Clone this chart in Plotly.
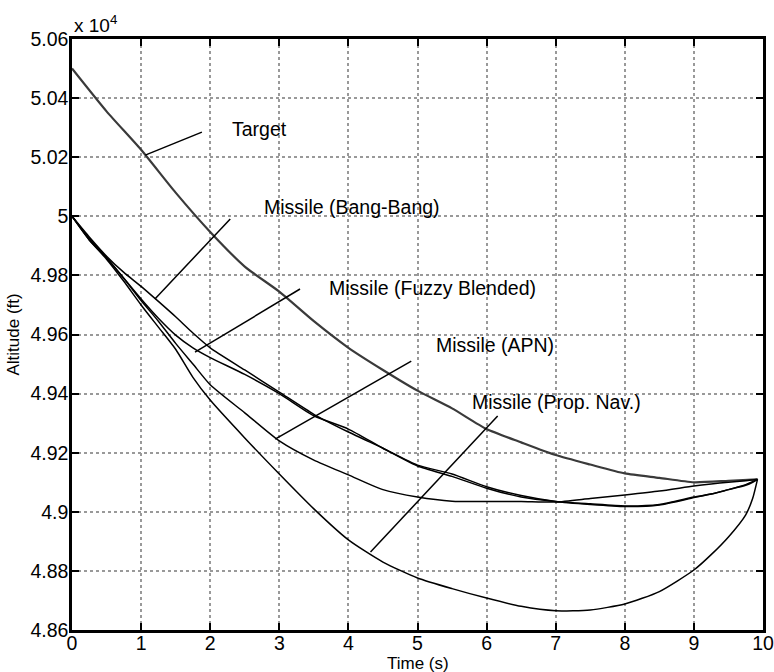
import plotly.graph_objects as go

# time grid (s) and altitudes (x 10^4 ft)
t_target = [0, 0.5, 1.0, 1.5, 2.0, 2.5, 3.0, 3.5, 4.0, 4.5, 5.0, 5.5, 6.0, 6.5, 7.0, 7.5, 8.0, 8.5, 9.0, 9.5, 9.92]
alt_target = [5.050, 5.0355, 5.0225, 5.008, 4.9947, 4.983, 4.9745, 4.9645, 4.9555, 4.948, 4.941, 4.935, 4.928,
              4.9235, 4.9192, 4.916, 4.913, 4.9115, 4.910, 4.9105, 4.911]

t_m = [0, 0.25, 0.5, 0.75, 1.0, 1.25, 1.5, 1.75, 2.0, 2.5, 3.0, 3.5, 4.0, 4.5, 5.0, 5.5, 6.0, 6.5, 7.0, 7.5,
       8.0, 8.5, 9.0, 9.25, 9.5, 9.75, 9.85, 9.92]
alt_bang = [5.000, 4.993, 4.9865, 4.981, 4.9763, 4.9712, 4.9660, 4.9605, 4.9555, 4.948, 4.9405, 4.933, 4.927,
            4.9215, 4.9158, 4.9128, 4.9085, 4.9055, 4.9035, 4.9025, 4.9018, 4.9023, 4.9048, 4.906, 4.9075,
            4.909, 4.910, 4.911]
alt_fuzzy = [5.000, 4.9925, 4.986, 4.979, 4.972, 4.9655, 4.9598, 4.9555, 4.9522, 4.9465, 4.940, 4.9325, 4.928,
             4.9215, 4.9155, 4.912, 4.908, 4.905, 4.9035, 4.9027, 4.902, 4.9025, 4.905, 4.906, 4.9075,
             4.9092, 4.9102, 4.911]
alt_apn = [5.000, 4.992, 4.986, 4.979, 4.9715, 4.9645, 4.957, 4.950, 4.943, 4.9335, 4.924, 4.9175, 4.9125,
           4.9075, 4.905, 4.9036, 4.9035, 4.9035, 4.9033, 4.9045, 4.9057, 4.907, 4.9087, 4.9094, 4.910,
           4.9105, 4.9108, 4.911]
alt_pn = [5.000, 4.992, 4.9855, 4.978, 4.970, 4.9625, 4.955, 4.9455, 4.9378, 4.925, 4.9128, 4.901, 4.8905,
          4.883, 4.8776, 4.874, 4.8708, 4.868, 4.8665, 4.8668, 4.8688, 4.873, 4.8803, 4.8855, 4.8915, 4.899,
          4.9045, 4.911]

# labels: text, text anchor (t, alt), pointer start (t, alt), pointer end (t, alt)
label_text = ["Target", "Missile (Bang-Bang)", "Missile (Fuzzy Blended)", "Missile (APN)", "Missile (Prop. Nav.)"]
label_t = [2.29, 2.75, 3.69, 5.24, 5.76]
label_alt = [5.0295, 5.0031, 4.9757, 4.9564, 4.9372]
ptr_t0 = [1.88, 2.29, 3.30, 4.91, 6.16]
ptr_a0 = [5.0285, 4.9991, 4.9754, 4.951, 4.9324]
ptr_t1 = [1.06, 1.20, 1.78, 2.94, 4.32]
ptr_a1 = [5.0207, 4.972, 4.954, 4.9246, 4.8864]

x_ticks = [0, 1, 2, 3, 4, 5, 6, 7, 8, 9, 10]
y_ticks = [4.86, 4.88, 4.90, 4.92, 4.94, 4.96, 4.98, 5.00, 5.02, 5.04, 5.06]
y_ticktext = ["4.86", "4.88", "4.9", "4.92", "4.94", "4.96", "4.98", "5", "5.02", "5.04", "5.06"]

FONT = "Liberation Sans, Arial, sans-serif"

fig = go.Figure()
fig.add_trace(go.Scatter(x=t_target, y=alt_target, mode="lines",
                         line=dict(color="#3a3a3a", width=2.2, shape="spline", smoothing=0.6)))
for ys in (alt_bang, alt_fuzzy, alt_apn, alt_pn):
    fig.add_trace(go.Scatter(x=t_m, y=ys, mode="lines",
                             line=dict(color="black", width=1.5, shape="spline", smoothing=0.6)))

for i in range(len(label_text)):
    fig.add_shape(type="line", xref="x", yref="y",
                  x0=ptr_t0[i], y0=ptr_a0[i], x1=ptr_t1[i], y1=ptr_a1[i],
                  line=dict(color="black", width=1.5))
    fig.add_annotation(x=label_t[i], y=label_alt[i], xref="x", yref="y", text=label_text[i],
                       showarrow=False, xanchor="left", yanchor="middle",
                       font=dict(family=FONT, size=19.5, color="black"))

fig.add_annotation(x=0, y=1, xref="paper", yref="paper", text="x 10<sup>4</sup>",
                   showarrow=False, xanchor="left", yanchor="bottom", yshift=1,
                   font=dict(family=FONT, size=19, color="black"))

# axis titles as annotations (keeps plot area fixed)
fig.add_annotation(x=0.5, y=0, xref="paper", yref="paper", text="Time (s)", showarrow=False,
                   xanchor="center", yanchor="middle", yshift=-33,
                   font=dict(family=FONT, size=17, color="black"))
fig.add_annotation(x=0, y=0.5, xref="paper", yref="paper", text="Altitude (ft)", showarrow=False,
                   xanchor="center", yanchor="middle", xshift=-59, textangle=-90,
                   font=dict(family=FONT, size=17, color="black"))

axis_common = dict(showline=True, linecolor="black", linewidth=2.5, mirror="ticks",
                   ticks="inside", ticklen=7, tickwidth=2, tickcolor="black",
                   showgrid=True, gridcolor="#999999", gridwidth=1.5, griddash="dot",
                   zeroline=False, automargin=False,
                   tickfont=dict(family=FONT, size=19.5, color="black"))

fig.update_xaxes(range=[0, 10], tickvals=x_ticks, ticklabelstandoff=-6, **axis_common)
fig.update_yaxes(range=[4.86, 5.06], tickvals=y_ticks, ticktext=y_ticktext, ticklabelstandoff=-3,
                 **axis_common)

fig.update_layout(width=774, height=672, margin=dict(l=72, r=11, t=39, b=42),
                  paper_bgcolor="white", plot_bgcolor="white", showlegend=False)

fig.write_html("out.html")
